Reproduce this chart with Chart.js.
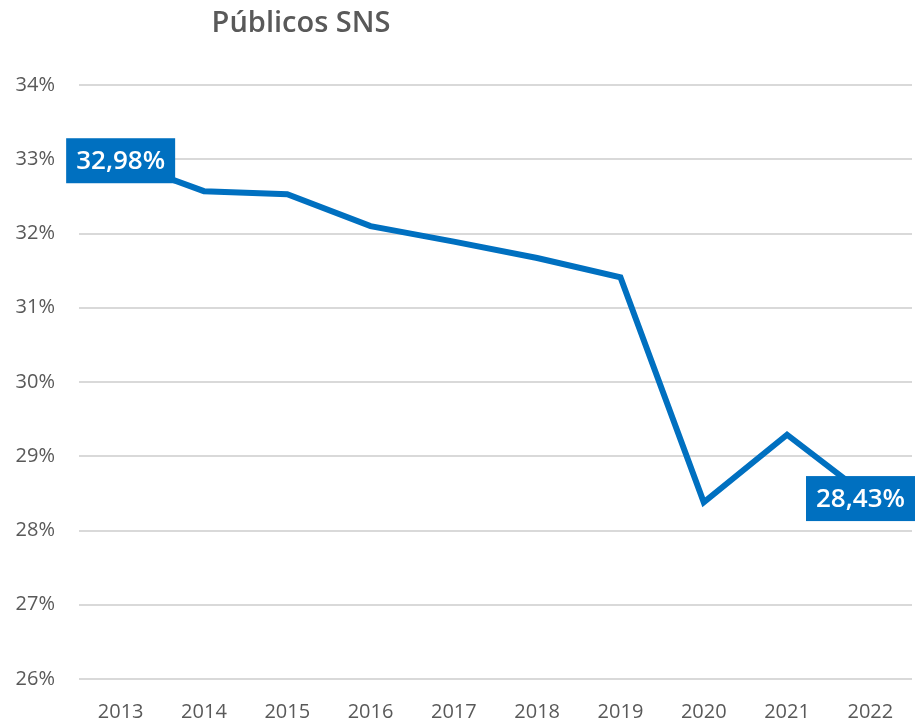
<!DOCTYPE html>
<html>
<head>
<meta charset="utf-8">
<script src="https://cdn.jsdelivr.net/npm/chart.js@4/dist/chart.umd.min.js"></script>
<style>
  html, body { margin: 0; padding: 0; background: #ffffff; }
  #wrap { position: relative; width: 915px; height: 725px; }
  #title { position: absolute; left: 0; width: 602px; top: 1px; text-align: center;
           font-family: "Open Sans", sans-serif; font-weight: 600; font-size: 29px; color: #595959; line-height: 40px; }
  canvas { position: absolute; left: 0; top: 0; }
</style>
</head>
<body>
<div id="wrap">
  <canvas id="c" width="915" height="725"></canvas>
  <div id="title">Públicos SNS</div>
</div>
<script>
const categories = ["2013","2014","2015","2016","2017","2018","2019","2020","2021","2022"];
const publicosSNS = [32.98, 32.57, 32.53, 32.10, 31.89, 31.67, 31.41, 28.38, 29.29, 28.43];
const labelledIndices = [0, 9];
const yMin = 26, yMax = 34, yStep = 1;

const fmt = v => v.toFixed(2).replace('.', ',') + '%';

const labelPlugin = {
  id: 'boxLabels',
  afterDraw(chart) {
    const ctx = chart.ctx;
    const meta = chart.getDatasetMeta(0);
    ctx.save();
    ctx.font = '600 26px "Open Sans", sans-serif';
    ctx.textAlign = 'center';
    ctx.textBaseline = 'middle';
    labelledIndices.forEach(i => {
      const p = meta.data[i];
      const txt = fmt(publicosSNS[i]);
      const w = ctx.measureText(txt).width + 20;
      const h = 45;
      let cx = p.x;
      if (cx + w / 2 > chart.width) cx = chart.width - w / 2;
      ctx.fillStyle = '#0070C0';
      ctx.fillRect(cx - w / 2, p.y - h / 2, w, h);
      ctx.fillStyle = '#ffffff';
      ctx.fillText(txt, cx, p.y + 1);
    });
    ctx.restore();
  }
};

new Chart(document.getElementById('c'), {
  type: 'line',
  data: {
    labels: categories,
    datasets: [{
      data: publicosSNS,
      borderColor: '#0070C0',
      borderWidth: 6,
      pointRadius: 0,
      pointHoverRadius: 0,
      tension: 0,
      fill: false
    }]
  },
  options: {
    responsive: false,
    animation: false,
    layout: { padding: { top: 85, right: 3, bottom: 0, left: 0 } },
    plugins: { legend: { display: false }, title: { display: false }, tooltip: { enabled: false } },
    scales: {
      x: {
        offset: true,
        grid: { display: false, drawTicks: false },
        border: { display: false },
        ticks: { color: '#595959', font: { family: 'Open Sans', size: 20 }, padding: 21, maxRotation: 0 },
        afterFit(s) { s.height = 46; }
      },
      y: {
        min: yMin, max: yMax,
        grid: { color: '#d9d9d9', lineWidth: 2, drawTicks: false },
        border: { display: false },
        ticks: { stepSize: yStep, color: '#595959', font: { family: 'Open Sans', size: 20 }, padding: 24,
                 callback: v => v + '%' },
        afterFit(s) { s.width = 79; }
      }
    }
  },
  plugins: [labelPlugin]
});
</script>
</body>
</html>
